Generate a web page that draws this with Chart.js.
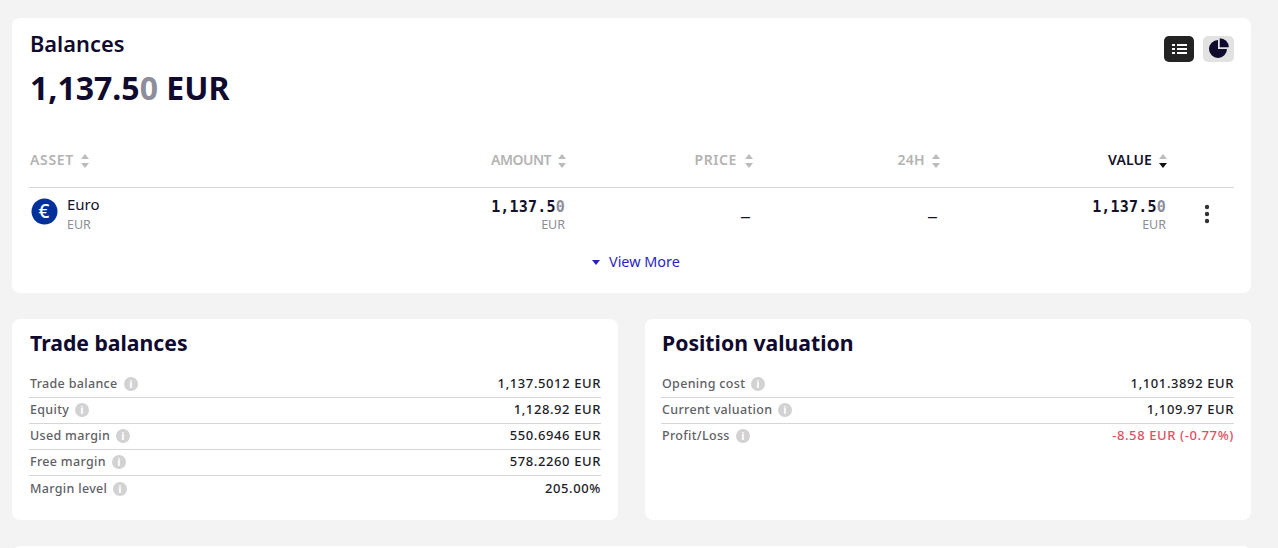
<!DOCTYPE html>
<html>
<head>
<meta charset="utf-8">
<script src="https://cdn.jsdelivr.net/npm/chart.js@4"></script>
<style>
html, body { margin: 0; height: 100%; overflow: hidden; background: #f3f3f3; font-family: "Noto Sans", sans-serif; color: #0f0a2e; }
.card { position: absolute; background: #fff; border-radius: 8px; }
.t { position: absolute; white-space: nowrap; line-height: 1; }
.r { text-align: right; }
.head { font-size: 14px; font-weight: 600; color: #b3b3b3; top: 153px; }
.mono { font-family: "DejaVu Sans Mono", monospace; font-weight: 700; font-size: 15px; letter-spacing: .2px; color: #14112b; }
.sub { font-size: 12.5px; color: #8d8d94; }
.fade { color: #8d8d9c; }
.line { position: absolute; height: 1px; background: #d6d6d6; }
.lab { font-size: 12.5px; color: #5f5f66; font-weight: 500; letter-spacing: .32px; }
.val { font-size: 13px; color: #1c1c28; font-weight: 500; letter-spacing: .6px; }
.info { position: absolute; width: 14px; height: 14px; border-radius: 50%; background: #d2d2d2; color: #fff; font-size: 11px; font-weight: 700; line-height: 14px; text-align: center; }
.title { font-size: 21.2px; font-weight: 700; }
.arrows { position: absolute; width: 8px; height: 16px; }
.arrows i { position: absolute; left: 0; border-left: 4px solid transparent; border-right: 4px solid transparent; }
.arrows i:first-child { top: 1px; border-bottom: 5px solid #bcbcbc; }
.arrows i:last-child { top: 10px; border-top: 5px solid #bcbcbc; }
.arrows.on i:last-child { border-top-color: #111; }
#btnList { position: absolute; left: 1164px; top: 36px; width: 30px; height: 26px; border-radius: 5px; background: #232323; }
#btnList b { position: absolute; height: 2px; background: #fff; }
#btnPie { position: absolute; left: 1203px; top: 36px; width: 31px; height: 26px; border-radius: 5px; background: #e2e2e2; }
#pieIcon { position: absolute; left: 0; top: -2px; }
</style>
</head>
<body>
<div class="card" style="left:12px;top:18px;width:1239px;height:275px"></div>
<div class="card" style="left:12px;top:319px;width:606px;height:201px"></div>
<div class="card" style="left:645px;top:319px;width:606px;height:201px"></div>
<div class="card" style="left:12px;top:546px;width:1239px;height:20px"></div>

<div class="t" style="left:30px;top:33px;font-size:21.8px;font-weight:600">Balances</div>
<div class="t" style="left:30px;top:72px;font-size:32px;font-weight:700">1,137.5<span class="fade">0</span> EUR</div>

<div id="btnList">
  <b style="left:8px;top:8px;width:3px"></b><b style="left:13px;top:8px;width:10px"></b>
  <b style="left:8px;top:12px;width:3px"></b><b style="left:13px;top:12px;width:10px"></b>
  <b style="left:8px;top:16px;width:3px"></b><b style="left:13px;top:16px;width:10px"></b>
</div>
<div id="btnPie"><canvas id="pieIcon" width="30" height="30"></canvas></div>

<div class="line" style="left:29px;top:187px;width:1205px"></div>

<svg style="position:absolute;left:31px;top:198px" width="27" height="27" viewBox="0 0 27 27"><circle cx="13.5" cy="13.5" r="13" fill="#00309c"/><text x="13" y="20" font-size="19" font-family="Noto Sans" font-weight="500" fill="#fff" text-anchor="middle">€</text></svg>
<div class="t" style="left:67px;top:197px;font-size:15px;color:#14112b">Euro</div>
<div class="t sub" style="left:67px;top:219px">EUR</div>

<div class="t mono r" style="right:713px;top:200px">1,137.5<span class="fade">0</span></div>
<div class="t sub r" style="right:713px;top:219px">EUR</div>
<div class="t" style="left:741px;top:198px;font-size:20px;color:#14112b">_</div>
<div class="t" style="left:928px;top:198px;font-size:20px;color:#14112b">_</div>
<div class="t mono r" style="right:112px;top:200px">1,137.5<span class="fade">0</span></div>
<div class="t sub r" style="right:112px;top:219px">EUR</div>
<svg style="position:absolute;left:1204px;top:204px" width="6" height="20"><circle cx="3" cy="3" r="2.2" fill="#333"/><circle cx="3" cy="10" r="2.2" fill="#333"/><circle cx="3" cy="17" r="2.2" fill="#333"/></svg>

<div class="t" style="left:592px;top:260px;width:0;height:0;border-left:4px solid transparent;border-right:4px solid transparent;border-top:5px solid #2a1fc0"></div>
<div class="t" style="left:609px;top:255px;font-size:14.4px;color:#2a1fc0">View More</div>

<div id="heads"></div>

<div class="t title" style="left:30px;top:332px">Trade balances</div>
<div class="t title" style="left:662px;top:332px">Position valuation</div>
<div id="rows"></div>

<script>
// Values
const headLabels = ['ASSET', 'AMOUNT', 'PRICE', '24H', 'VALUE'];
const tradeLabels = ['Trade balance', 'Equity', 'Used margin', 'Free margin', 'Margin level'];
const tradeValues = ['1,137.5012 EUR', '1,128.92 EUR', '550.6946 EUR', '578.2260 EUR', '205.00%'];
const positionLabels = ['Opening cost', 'Current valuation', 'Profit/Loss'];
const positionValues = ['1,101.3892 EUR', '1,109.97 EUR', '-8.58 EUR (-0.77%)'];
const pieSlices = [25, 75];

// Where things sit on the page
const headRight = [74, 551, 737, 925, 1152];
const headSpacing = [0.7, -0.5, 0.6, 0.3, 0.1];
const arrowLeft = [81, 558, 745, 932, 1159];
const rowTops = [378, 404, 430, 456, 483];
const lineTops = [397, 423, 449, 475];

function addEl(parent, cls, style, text) {
    const el = document.createElement('div');
    el.className = cls;
    el.style.cssText = style;
    if (text) el.textContent = text;
    parent.appendChild(el);
    return el;
}

// Table header
const heads = document.getElementById('heads');
headLabels.forEach((label, i) => {
    const color = label === 'VALUE' ? 'color:#14112b;' : '';
    addEl(heads, 't head r', `right:${1278 - headRight[i]}px;letter-spacing:${headSpacing[i]}px;${color}`, label);
    const arrows = addEl(heads, 'arrows' + (label === 'VALUE' ? ' on' : ''), `left:${arrowLeft[i]}px;top:153px`);
    arrows.innerHTML = '<i></i><i></i>';
});

// Info rows of the two lower cards
const rows = document.getElementById('rows');
function addRows(labels, values, left, right) {
    labels.forEach((label, i) => {
        const lab = addEl(rows, 't lab', `left:${left}px;top:${rowTops[i]}px`, label);
        addEl(rows, 'info', `left:${left + lab.offsetWidth + 6}px;top:${rowTops[i] - 1}px`, 'i');
        const color = values[i].charAt(0) === '-' ? 'color:#e0505f;' : '';
        addEl(rows, 't val r', `right:${1278 - right}px;top:${rowTops[i] - 1}px;${color}`, values[i]);
        if (i < labels.length - 1) {
            addEl(rows, 'line', `left:${left - 1}px;top:${lineTops[i]}px;width:${right - left + 1}px`);
        }
    });
}
addRows(tradeLabels, tradeValues, 30, 601);
addRows(positionLabels, positionValues, 662, 1234);

// Pie in the toggle button
new Chart(document.getElementById('pieIcon'), {
    type: 'pie',
    data: {
        labels: ['Part', 'Rest'],
        datasets: [{
            data: pieSlices,
            backgroundColor: '#0f0a2e',
            borderWidth: 0,
            offset: [10, 0]
        }]
    },
    options: {
        responsive: false,
        animation: false,
        layout: { padding: 1 },
        plugins: { legend: { display: false }, tooltip: { enabled: false } }
    }
});
</script>
</body>
</html>
